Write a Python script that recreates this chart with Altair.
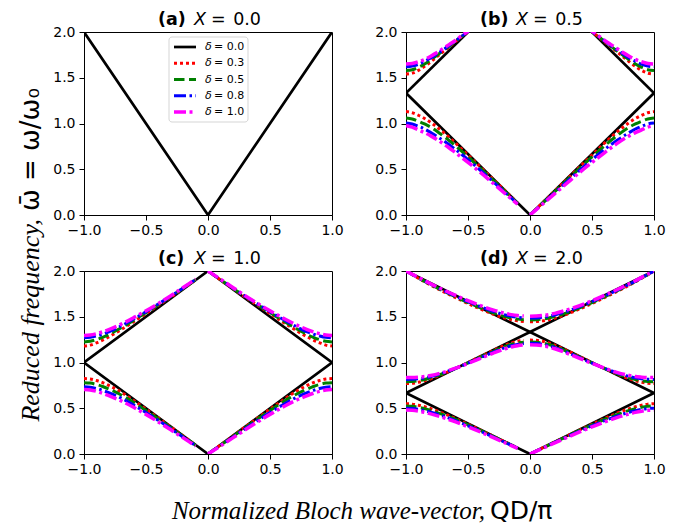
import altair as alt
import pandas as pd

# ---------------- data ----------------
DELTAS = ["0.0", "0.3", "0.5", "0.8", "1.0"]
COLORS = ["#000000", "#ff0000", "#008000", "#0000ff", "#ff00ff"]
DASHES = [None, [3, 3], [10.5, 4.5], [12, 3.5, 2.5, 3.5], [12, 3.5, 3, 3.5]]
WIDTHS = [2.7, 3.0, 3.0, 3.0, 3.5]

PANEL_TAGS = ["(a)", "(b)", "(c)", "(d)"]
PANEL_X = ["0.0", "0.5", "1.0", "2.0"]

X_TICKS = [-1.0, -0.5, 0.0, 0.5, 1.0]
Y_TICKS = [0.0, 0.5, 1.0, 1.5, 2.0]

# delta = 0 (black) branches: (QD/pi values, reduced frequency)
A_BLACK = [([-1, 0, 1], [2.0, 0.0, 2.0])]
B_BLACK = [([-1, 0, 1], [1.333, 0.0, 1.333]), ([-1, -0.5], [1.333, 2.0]), ([0.5, 1], [2.0, 1.333])]
C_BLACK = [([-1, 0, 1], [1.0, 0.0, 1.0]), ([-1, 0, 1], [1.0, 2.0, 1.0])]
D_BLACK = [([-1, 0, 1], [0.667, 0.0, 0.667]), ([-1, 0, 1], [0.667, 1.333, 0.667]),
           ([-1, 0, 1], [2.0, 1.333, 2.0])]

# colored branches (delta = 0.3, 0.5, 0.8, 1.0), symmetric in QD/pi: values for |QD/pi|
Q13 = [0.0, 0.1, 0.2, 0.3, 0.4, 0.5, 0.6, 0.7, 0.8, 0.85, 0.9, 0.95, 1.0]
Q_BUP = [0.45, 0.5, 0.55, 0.6, 0.65, 0.7, 0.75, 0.8, 0.85, 0.9, 0.95, 1.0]
Q15 = [0.0, 0.05, 0.1, 0.15, 0.2, 0.3, 0.4, 0.5, 0.6, 0.7, 0.8, 0.85, 0.9, 0.95, 1.0]

B_LOWER = [
    [0, 0.131, 0.263, 0.394, 0.525, 0.655, 0.785, 0.905, 1.01, 1.055, 1.09, 1.118, 1.13],
    [0, 0.128, 0.256, 0.384, 0.51, 0.635, 0.755, 0.865, 0.96, 0.995, 1.025, 1.05, 1.06],
    [0, 0.123, 0.245, 0.367, 0.488, 0.605, 0.715, 0.815, 0.9, 0.94, 0.97, 0.995, 1.005],
    [0, 0.117, 0.234, 0.35, 0.465, 0.575, 0.68, 0.78, 0.865, 0.9, 0.93, 0.96, 0.975],
]
B_UPPER = [
    [2.06, 2.0, 1.95, 1.895, 1.84, 1.785, 1.73, 1.675, 1.625, 1.58, 1.55, 1.54],
    [2.06, 2.003, 1.952, 1.9, 1.847, 1.795, 1.745, 1.695, 1.65, 1.615, 1.588, 1.58],
    [2.06, 2.005, 1.955, 1.905, 1.855, 1.805, 1.76, 1.715, 1.68, 1.648, 1.627, 1.62],
    [2.06, 2.01, 1.96, 1.91, 1.865, 1.82, 1.775, 1.735, 1.70, 1.675, 1.655, 1.65],
]
C_LOWER = [
    [0, 0.098, 0.197, 0.295, 0.393, 0.49, 0.585, 0.675, 0.75, 0.78, 0.803, 0.82, 0.825],
    [0, 0.096, 0.192, 0.288, 0.383, 0.475, 0.565, 0.645, 0.71, 0.738, 0.76, 0.775, 0.78],
    [0, 0.092, 0.184, 0.276, 0.366, 0.453, 0.535, 0.61, 0.67, 0.695, 0.716, 0.73, 0.735],
    [0, 0.088, 0.176, 0.264, 0.35, 0.433, 0.51, 0.58, 0.638, 0.664, 0.685, 0.7, 0.705],
]
C_UPPER = [
    [2.0, 1.903, 1.808, 1.715, 1.625, 1.535, 1.445, 1.36, 1.28, 1.245, 1.215, 1.19, 1.18],
    [2.0, 1.905, 1.812, 1.72, 1.632, 1.545, 1.46, 1.38, 1.305, 1.275, 1.25, 1.232, 1.225],
    [2.0, 1.908, 1.815, 1.725, 1.64, 1.555, 1.475, 1.4, 1.335, 1.31, 1.29, 1.275, 1.27],
    [2.0, 1.91, 1.82, 1.73, 1.645, 1.565, 1.49, 1.42, 1.36, 1.335, 1.315, 1.3, 1.295],
]
D_BAND1 = [
    [0, 0.066, 0.132, 0.197, 0.262, 0.325, 0.387, 0.445, 0.495, 0.516, 0.533, 0.545, 0.55],
    [0, 0.065, 0.13, 0.194, 0.257, 0.318, 0.377, 0.43, 0.477, 0.496, 0.511, 0.521, 0.525],
    [0, 0.063, 0.126, 0.188, 0.249, 0.308, 0.364, 0.414, 0.457, 0.474, 0.488, 0.497, 0.5],
    [0, 0.061, 0.122, 0.182, 0.241, 0.297, 0.35, 0.398, 0.438, 0.455, 0.468, 0.477, 0.48],
]
D_BAND2 = [
    [1.245, 1.242, 1.232, 1.215, 1.19, 1.13, 1.065, 1.0, 0.935, 0.875, 0.822, 0.8, 0.784, 0.773, 0.77],
    [1.225, 1.222, 1.213, 1.197, 1.175, 1.12, 1.058, 0.995, 0.935, 0.88, 0.833, 0.814, 0.8, 0.792, 0.79],
    [1.21, 1.207, 1.198, 1.183, 1.163, 1.11, 1.052, 0.993, 0.937, 0.887, 0.847, 0.832, 0.822, 0.817, 0.815],
    [1.195, 1.192, 1.184, 1.17, 1.15, 1.1, 1.045, 0.99, 0.938, 0.892, 0.858, 0.846, 0.84, 0.836, 0.835],
]
D_BAND3 = [
    [1.445, 1.447, 1.455, 1.468, 1.485, 1.53, 1.585, 1.645, 1.71, 1.775, 1.845, 1.882, 1.92, 1.96, 2.0],
    [1.465, 1.467, 1.474, 1.486, 1.502, 1.545, 1.597, 1.655, 1.717, 1.782, 1.85, 1.886, 1.923, 1.961, 2.0],
    [1.485, 1.487, 1.494, 1.505, 1.52, 1.56, 1.61, 1.665, 1.725, 1.788, 1.855, 1.89, 1.926, 1.963, 2.0],
    [1.505, 1.507, 1.513, 1.523, 1.537, 1.575, 1.622, 1.675, 1.733, 1.795, 1.86, 1.894, 1.93, 1.965, 2.0],
]

Y_LABEL_TEXT = "Reduced frequency,"
Y_LABEL_MATH = "\u03c9\u0304 = \u03c9/\u03c9\u2080"
X_LABEL_TEXT = "Normalized Bloch wave-vector,"
X_LABEL_MATH = "QD/\u03c0"

# ---------------- chart ----------------
W, H = 248, 183

XAXIS = alt.Axis(values=X_TICKS, format=".1f", labelFontSize=14, labelFont="DejaVu Sans",
                 labelColor="black", tickColor="black", domainColor="black", tickSize=5,
                 tickWidth=1, domainWidth=1, grid=False, title=None, labelFlush=False,
                 labelOverlap=False, labelPadding=3)
YAXIS = alt.Axis(values=Y_TICKS, format=".1f", labelFontSize=14, labelFont="DejaVu Sans",
                 labelColor="black", tickColor="black", domainColor="black", tickSize=5,
                 tickWidth=1, domainWidth=1, grid=False, title=None, labelFlush=False,
                 labelOverlap=False, labelPadding=4)


def enc():
    return dict(
        x=alt.X("q:Q", scale=alt.Scale(domain=[-1, 1], nice=False, zero=False), axis=XAXIS),
        y=alt.Y("w:Q", scale=alt.Scale(domain=[0, 2], nice=False, zero=False), axis=YAXIS),
        detail="g:N",
    )


def one(text):
    return pd.DataFrame({"t": [text]})


def text_layer(text, x, y, size, font="DejaVu Sans", weight="normal", style="normal",
               align="left", baseline="alphabetic", angle=0):
    return alt.Chart(one(text)).mark_text(
        font=font, fontSize=size, fontWeight=weight, fontStyle=style, align=align,
        baseline=baseline, angle=angle, color="black"
    ).encode(x=alt.value(x), y=alt.value(y), text="t:N")


TITLE_SIZE = 17.5
TITLE_Y = -7


def make_panel(idx, black, colored, extra=None):
    layers = []
    rows = []
    for b, (qs, ws) in enumerate(black):
        for q, w in zip(qs, ws):
            rows.append({"q": q, "w": w, "g": f"k{b}"})
    layers.append(alt.Chart(pd.DataFrame(rows)).mark_line(
        color=COLORS[0], strokeWidth=WIDTHS[0], clip=True).encode(**enc()))
    for k in range(1, 5):
        rows = []
        for b, (qs, band) in enumerate(colored):
            for q, w in zip(qs, band[k - 1]):
                rows.append({"q": q, "w": w, "g": f"b{b}R"})
                if q > 0:
                    rows.append({"q": -q, "w": w, "g": f"b{b}L"})
        if rows:
            layers.append(alt.Chart(pd.DataFrame(rows)).mark_line(
                color=COLORS[k], strokeDash=DASHES[k], strokeWidth=WIDTHS[k],
                interpolate="monotone", clip=True).encode(**enc()))
    # panel title: "(a) X = 0.0"
    layers.append(text_layer(PANEL_TAGS[idx], 74, TITLE_Y, TITLE_SIZE, weight="bold"))
    layers.append(text_layer("X", 110, TITLE_Y, TITLE_SIZE, style="italic"))
    layers.append(text_layer("=", 127, TITLE_Y, TITLE_SIZE))
    layers.append(text_layer(PANEL_X[idx], 177, TITLE_Y, TITLE_SIZE, align="right"))
    if extra:
        layers += extra
    return alt.layer(*layers).properties(width=W, height=H)


# legend in panel (a)
LEG_Y = [15, 31.25, 47.5, 63.75, 80]
legend_layers = [
    alt.Chart(one("box")).mark_rect(fill="white", stroke="#cccccc", strokeWidth=1,
                                     cornerRadius=3, opacity=0.8).encode(
        x=alt.value(85), x2=alt.value(164), y=alt.value(5), y2=alt.value(90))
]
for k in range(5):
    props = dict(color=COLORS[k], strokeWidth=WIDTHS[k])
    if DASHES[k]:
        props["strokeDash"] = DASHES[k]
    legend_layers.append(alt.Chart(one(DELTAS[k])).mark_rule(**props).encode(
        x=alt.value(90), x2=alt.value(112), y=alt.value(LEG_Y[k])))
    legend_layers.append(text_layer("\u03b4", 121, LEG_Y[k], 11, style="italic", baseline="middle"))
    legend_layers.append(text_layer("= " + DELTAS[k], 130, LEG_Y[k], 11, baseline="middle"))

# invisible anchor that fixes the top-left of the whole drawing
anchor = alt.Chart(one("a")).mark_rect(opacity=0).encode(
    x=alt.value(-75), x2=alt.value(-74), y=alt.value(-23), y2=alt.value(-22))

ylabel_layers = [
    text_layer(Y_LABEL_TEXT, -45, 187, 26, font="Liberation Serif", style="italic",
               align="right", angle=270),
    text_layer(Y_LABEL_MATH, -45, 179, 26, align="left", angle=270),
]
xlabel_layers = [
    text_layer(X_LABEL_TEXT, 401, 248, 25, font="Liberation Serif", style="italic", align="right"),
    text_layer(X_LABEL_MATH, 406, 248, 25, align="left"),
]

pa = make_panel(0, A_BLACK, [], legend_layers + ylabel_layers + [anchor])
pb = make_panel(1, B_BLACK, [(Q13, B_LOWER), (Q_BUP, B_UPPER)])
pc = make_panel(2, C_BLACK, [(Q13, C_LOWER), (Q13, C_UPPER)], xlabel_layers)
pd_ = make_panel(3, D_BLACK, [(Q13, D_BAND1), (Q15, D_BAND2), (Q15, D_BAND3)])

chart = alt.concat(pa, pb, pc, pd_, columns=2, spacing={"row": 56, "column": 74},
                   bounds="flush").properties(
    padding={"left": 0, "top": 0, "right": 0, "bottom": 0},
    background="white",
).configure_view(stroke="black", strokeWidth=1)

chart.save("out.html", embed_options={"renderer": "svg", "actions": False})
